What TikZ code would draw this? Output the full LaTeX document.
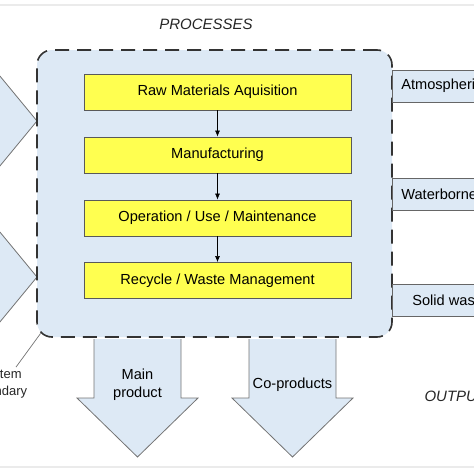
\documentclass[tikz,border=0pt]{standalone}
\usepackage{fontspec}
\setmainfont{Liberation Sans}
\usetikzlibrary{arrows.meta}
\definecolor{boundfill}{HTML}{DDE9F5}
\definecolor{stepfill}{HTML}{FFFF50}
\tikzset{
	boundary/.style={draw=black!80, fill=boundfill, line width=1.6pt, dash pattern=on 14pt off 8pt, rounded corners=15pt},
	stepbox/.style={draw=black!65, fill=stepfill, line width=0.9pt, minimum width=267pt, minimum height=36pt, font=\fontsize{14.6}{17}\selectfont},
	outbox/.style={draw=black!60, fill=boundfill, line width=0.7pt, anchor=west, minimum height=32pt, inner xsep=9pt, font=\fontsize{14.6}{17}\selectfont},
	blockarrow/.style={draw=black!55, fill=boundfill, line width=0.8pt},
	flowarrow/.style={-{Latex[length=6pt,width=5pt]}, line width=0.6pt},
	headline/.style={font=\fontsize{15}{18}\selectfont\itshape, text=black!85},
	plainlabel/.style={font=\fontsize{14.6}{17}\selectfont, align=center}
}

\begin{document}
\begin{tikzpicture}[x=1pt, y=-1pt]
			%%%%% START %%%%%
			\useasboundingbox (0,0) rectangle (474,474);
			\clip (0,0) rectangle (474,474);
			
			\draw[black!8, line width=1.5pt] (0,5) -- (474,5);
			\draw[black!8, line width=1.5pt] (0,467) -- (474,467);
			
			\node[headline] (proclbl) at (206,24) {PROCESSES};
			
			% inputs, coming in from the left
			\path[blockarrow] (-10,64) -- (37,121) -- (-10,178);
			\path[blockarrow] (-10,220) -- (37,277) -- (-10,334);
			
			\node[boundary, minimum width=355pt, minimum height=287pt] (sysbound) at (214.5,193.5) {};
			
			\node[stepbox] (rawmat) at (217.5,92) {Raw Materials Aquisition};
			\node[stepbox] (manuf) at (217.5,155) {Manufacturing};
			\node[stepbox] (opuse) at (217.5,218) {Operation / Use / Maintenance};
			\node[stepbox] (recycle) at (217.5,280.5) {Recycle / Waste Management};
			
			\draw[flowarrow] (rawmat) -- (manuf);
			\draw[flowarrow] (manuf) -- (opuse);
			\draw[flowarrow] (opuse) -- (recycle);
			
			% emissions on the right
			\node[outbox] (atmos) at (392,86) {Atmospheric emissions};
			\node[outbox] (water) at (392,194) {Waterborne emissions};
			\node[outbox, inner xsep=20pt] (solid) at (392,300.5) {Solid waste};
			
			% products
			\path[blockarrow] (94,339) -- (94,398) -- (77,398) -- (137.5,457) -- (198,398) -- (181,398) -- (181,339);
			\path[blockarrow] (249,339) -- (249,398) -- (232,398) -- (292.5,457) -- (353,398) -- (336,398) -- (336,339);
			\node[plainlabel] (mainprod) at (137.5,385) {Main\\[1pt]product};
			\node[plainlabel] (coprod) at (292.5,385) {Co-products};
			
			\node[headline, anchor=west] (outlbl) at (421,396) {OUTPUTS};
			
			\node[plainlabel, font=\fontsize{13}{17}\selectfont, text=black!85] (syslbl) at (0,384) {System\\boundary};
			\draw[black!55, line width=0.7pt] ([xshift=16pt, yshift=-1pt]syslbl.north) -- ([shift={(4.4,-4.4)}]sysbound.south west);
			
			%%%%% END %%%%%
\end{tikzpicture}
\end{document}
